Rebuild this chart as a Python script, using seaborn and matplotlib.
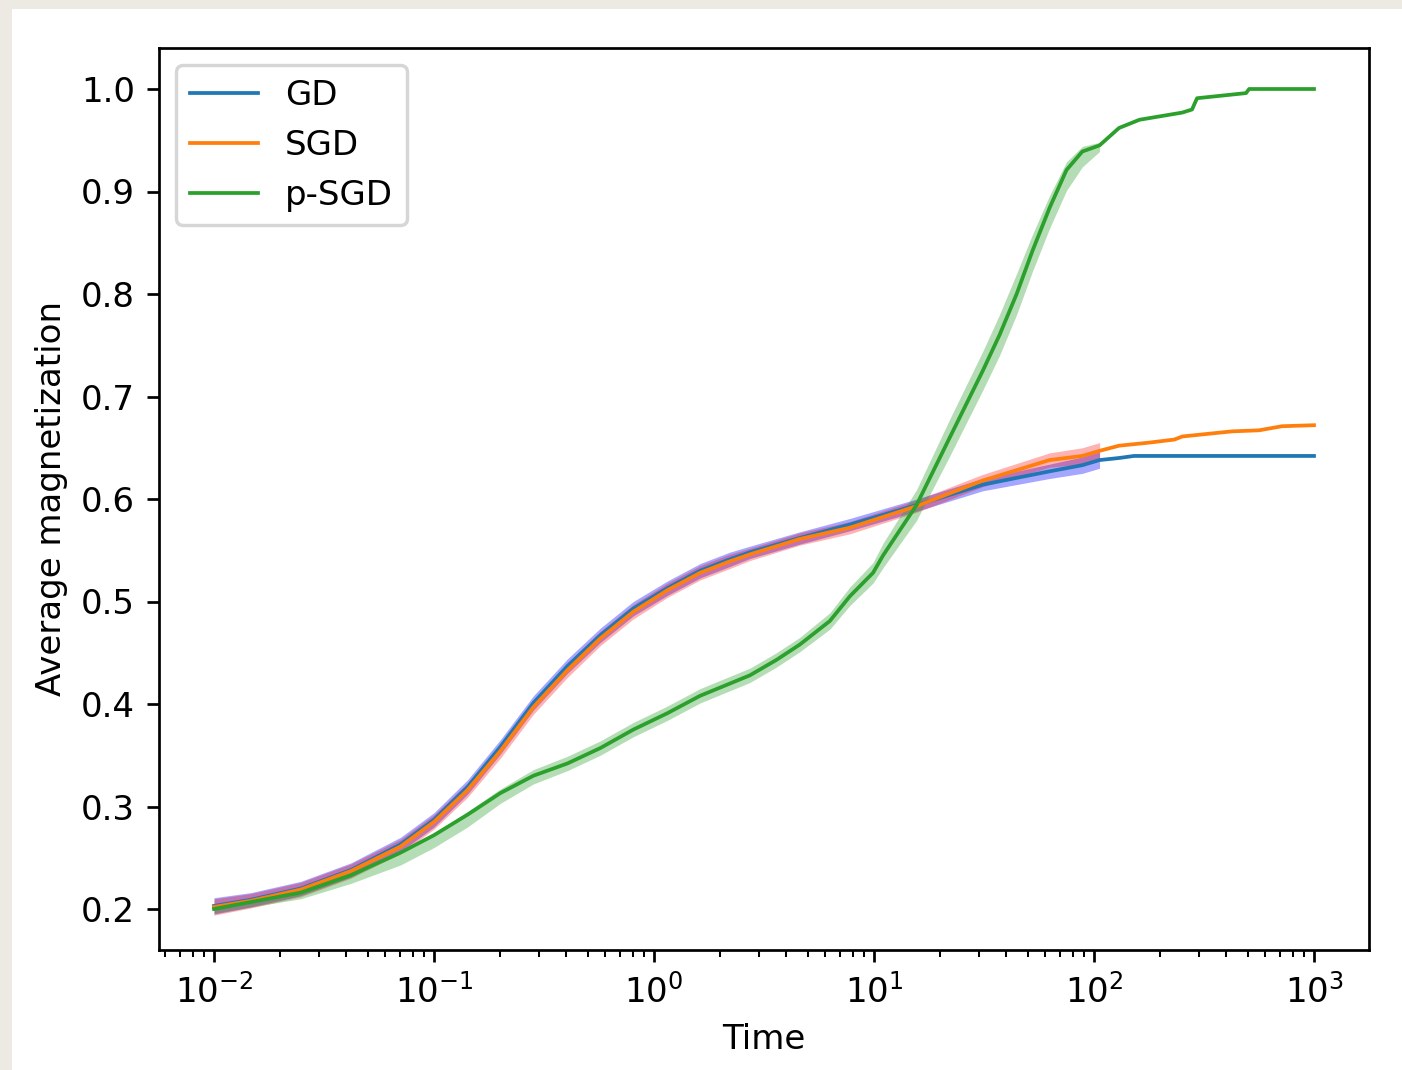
import numpy as np
import seaborn as sns
import matplotlib.pyplot as plt
from matplotlib.patches import Rectangle

# GD
t_gd = [0.01, 0.0147, 0.0248, 0.0419, 0.0705, 0.1, 0.142, 0.2, 0.283, 0.404, 0.57, 0.805,
        1.15, 1.62, 2.2, 2.73, 4.6, 7.76, 15.6, 31.2, 62.8, 88.5, 106, 130, 152, 300, 1000]
gd = [0.203, 0.209, 0.220, 0.238, 0.263, 0.287, 0.319, 0.358, 0.401, 0.437, 0.467, 0.493,
      0.513, 0.530, 0.541, 0.548, 0.562, 0.575, 0.594, 0.614, 0.627, 0.633, 0.638, 0.640,
      0.642, 0.642, 0.642]
gd_sd = [0.008, 0.007, 0.007, 0.007, 0.007, 0.007, 0.007, 0.007, 0.007, 0.007, 0.007,
         0.007, 0.007, 0.007, 0.007, 0.006, 0.006, 0.006, 0.006, 0.006, 0.007, 0.008, 0.008]

# SGD
t_sgd = [0.01, 0.0147, 0.0248, 0.0419, 0.0705, 0.1, 0.142, 0.2, 0.283, 0.404, 0.57, 0.805,
         1.15, 1.62, 2.2, 2.73, 4.6, 7.76, 15.6, 31.2, 62.8, 88.5, 106, 130, 178, 232, 252,
         425, 562, 716, 1000]
sgd = [0.202, 0.208, 0.219, 0.237, 0.261, 0.285, 0.316, 0.354, 0.397, 0.433, 0.464, 0.490,
       0.511, 0.528, 0.539, 0.546, 0.561, 0.572, 0.593, 0.618, 0.638, 0.642, 0.647, 0.652,
       0.655, 0.658, 0.661, 0.666, 0.667, 0.671, 0.672]
sgd_sd = [0.008, 0.007, 0.007, 0.007, 0.007, 0.007, 0.007, 0.007, 0.007, 0.007, 0.007,
          0.007, 0.007, 0.007, 0.007, 0.006, 0.006, 0.006, 0.006, 0.006, 0.007, 0.008, 0.008]

# p-SGD
t_psgd = [0.01, 0.0248, 0.0419, 0.0705, 0.1, 0.142, 0.2, 0.283, 0.404, 0.57, 0.805, 1.15,
          1.62, 2.73, 3.6, 4.6, 6.3, 7.76, 9.9, 11.0, 15.6, 22.1, 31.2, 37.2, 44.5, 52.5,
          62.8, 75.0, 88.5, 106, 130, 161, 252, 279, 294, 491, 507, 1000]
psgd = [0.200, 0.216, 0.233, 0.255, 0.272, 0.292, 0.313, 0.330, 0.342, 0.357, 0.375, 0.391,
        0.408, 0.428, 0.443, 0.458, 0.481, 0.505, 0.528, 0.545, 0.594, 0.660, 0.725, 0.760,
        0.800, 0.842, 0.884, 0.921, 0.939, 0.945, 0.962, 0.970, 0.977, 0.980, 0.991, 0.996,
        1.000, 1.000]
psgd_lo = [0.004, 0.006, 0.008, 0.012, 0.012, 0.012, 0.010, 0.008, 0.007, 0.007, 0.007,
           0.007, 0.007, 0.007, 0.007, 0.007, 0.008, 0.009, 0.010, 0.012, 0.015, 0.018,
           0.019, 0.020, 0.020, 0.020, 0.020, 0.020, 0.015, 0.006]
psgd_hi = [0.003, 0.002, 0.002, 0.002, 0.002, 0.003, 0.004, 0.006, 0.007, 0.007, 0.007,
           0.007, 0.007, 0.007, 0.007, 0.007, 0.008, 0.009, 0.010, 0.012, 0.015, 0.018,
           0.019, 0.020, 0.020, 0.016, 0.012, 0.008, 0.005, 0.003]

dpi = 245
fig = plt.figure(figsize=(1402 / dpi, 1070 / dpi), dpi=dpi, facecolor='#eceae3')
fig.patches.append(Rectangle((12 / 1402, 0), 1, 1061 / 1070, transform=fig.transFigure,
                             facecolor='white', edgecolor='none', zorder=-1))
ax = fig.add_axes([159 / 1402, 120 / 1070, 1210 / 1402, 902 / 1070])

n = len(gd_sd)
tb = np.array(t_gd[:n])
ax.fill_between(tb, np.array(gd[:n]) - gd_sd, np.array(gd[:n]) + gd_sd,
                color='b', alpha=0.35, lw=0)
sns.lineplot(x=t_gd, y=gd, ax=ax, color='C0', lw=1.1, label='GD', estimator=None)

n = len(sgd_sd)
tb = np.array(t_sgd[:n])
ax.fill_between(tb, np.array(sgd[:n]) - sgd_sd, np.array(sgd[:n]) + sgd_sd,
                color='r', alpha=0.3, lw=0)
sns.lineplot(x=t_sgd, y=sgd, ax=ax, color='C1', lw=1.1, label='SGD', estimator=None)

n = len(psgd_lo)
tb = np.array(t_psgd[:n])
ax.fill_between(tb, np.array(psgd[:n]) - psgd_lo, np.array(psgd[:n]) + psgd_hi,
                color='C2', alpha=0.35, lw=0)
sns.lineplot(x=t_psgd, y=psgd, ax=ax, color='C2', lw=1.1, label='p-SGD', estimator=None)

ax.set_xscale('log')
ax.set_ylim(0.16, 1.04)
ax.set_yticks([0.2, 0.3, 0.4, 0.5, 0.6, 0.7, 0.8, 0.9, 1.0])
ax.set_xlabel('Time')
ax.set_ylabel('Average magnetization')
ax.legend(loc='upper left')

plt.savefig('out.png', dpi=dpi, facecolor=fig.get_facecolor())
